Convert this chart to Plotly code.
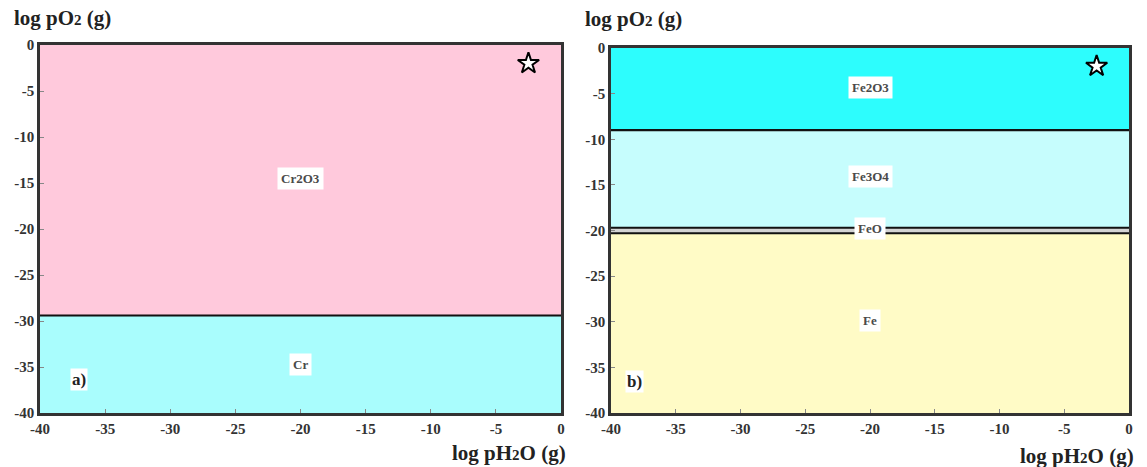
import plotly.graph_objects as go

# Phase stability data: log pO2 boundaries (top to bottom) at a given log pH2O range
x_range = [-40, 0]
x_ticks = [-40, -35, -30, -25, -20, -15, -10, -5, 0]
y_ticks = [0, -5, -10, -15, -20, -25, -30, -35, -40]

cr_phases = ["Cr2O3", "Cr"]
cr_bounds = [0, -29.4, -40]
cr_colors = ["#ffc9dc", "#a9fdfd"]
cr_label_x = [-20.0, -20.0]
cr_label_y = [-14.5, -34.7]

fe_phases = ["Fe2O3", "Fe3O4", "FeO", "Fe"]
fe_bounds = [0, -9.0, -19.7, -20.3, -40]
fe_colors = ["#2dfdfd", "#c6fdfd", "#d4d4d4", "#fffbc6"]
fe_label_x = [-20.0, -20.0, -20.0, -20.0]
fe_label_y = [-4.3, -14.1, -19.8, -29.9]

star_x = [-2.5]
star_y = [-2.0]

W, H = 1147, 467
serif = "Liberation Serif, Times New Roman, serif"

fig = go.Figure()


def add_panel(fig, xa, ya, phases, bounds, colors, lx, ly):
    # filled phase regions
    for i, name in enumerate(phases):
        top, bot = bounds[i], bounds[i + 1]
        fig.add_trace(go.Scatter(
            x=[x_range[0], x_range[1], x_range[1], x_range[0], x_range[0]],
            y=[top, top, bot, bot, top],
            fill="toself", fillcolor=colors[i], mode="lines",
            line=dict(width=0), hoverinfo="skip", showlegend=False,
            xaxis=xa, yaxis=ya))
    # phase boundary lines
    for b in bounds[1:-1]:
        fig.add_trace(go.Scatter(
            x=x_range, y=[b, b], mode="lines",
            line=dict(color="#111111", width=2.2), hoverinfo="skip",
            showlegend=False, xaxis=xa, yaxis=ya))
    # star marker for the operating point
    fig.add_trace(go.Scatter(
        x=star_x, y=star_y, mode="markers",
        marker=dict(symbol="star", size=16, color="white",
                    line=dict(color="black", width=2)),
        showlegend=False, xaxis=xa, yaxis=ya))
    # phase labels
    for name, x, y in zip(phases, lx, ly):
        fig.add_annotation(
            x=x, y=y, xref=xa, yref=ya, text=name, showarrow=False,
            font=dict(family=serif, size=13, color="#4a4a4a", weight="bold"),
            bgcolor="white", borderpad=3)


add_panel(fig, "x", "y", cr_phases, cr_bounds, cr_colors, cr_label_x, cr_label_y)
add_panel(fig, "x2", "y2", fe_phases, fe_bounds, fe_colors, fe_label_x, fe_label_y)

axis_common = dict(
    range=x_range, tickvals=x_ticks, ticktext=[str(v) for v in x_ticks],
    ticks="inside", ticklen=4, automargin=False,
    tickcolor="#888888", showgrid=False, zeroline=False,
    showline=True, linecolor="#333333", linewidth=2.5, mirror=True,
    tickfont=dict(family=serif, size=15, color="#333333", weight="bold"),
)
yaxis_common = dict(axis_common, range=[-40, 0], tickvals=y_ticks,
                    ticktext=[str(v) for v in y_ticks])

fig.update_layout(
    width=W, height=H,
    margin=dict(l=0, r=0, t=0, b=0),
    paper_bgcolor="white", plot_bgcolor="white",
    xaxis=dict(axis_common, domain=[40 / W, 561 / W], anchor="y"),
    yaxis=dict(yaxis_common, domain=[1 - 413 / H, 1 - 45 / H], anchor="x"),
    xaxis2=dict(axis_common, domain=[611 / W, 1129 / W], anchor="y2"),
    yaxis2=dict(yaxis_common, domain=[1 - 413 / H, 1 - 48 / H], anchor="x2"),
)

title_font = dict(family=serif, size=21, color="#222222", weight="bold")
ytitle = 'log pO<span style="font-size:15px">2</span> (g)'
xtitle = 'log pH<span style="font-size:15px">2</span>O (g)'

for (x, y, text, xanchor) in [
    (12, 18, ytitle, "left"),
    (583, 19, ytitle, "left"),
    (568, 453, xtitle, "right"),
    (1136, 456, xtitle, "right"),
]:
    fig.add_annotation(
        x=x / W, y=1 - y / H, xref="paper", yref="paper", text=text,
        showarrow=False, xanchor=xanchor, yanchor="middle", font=title_font)

for (x, y, text) in [(70, 391, "a)"), (634, 393, "b)")]:
    fig.add_annotation(
        x=x / W, y=1 - y / H, xref="paper", yref="paper", text=text,
        showarrow=False, font=dict(family=serif, size=17, color="#222222",
                                   weight="bold"),
        bgcolor="white", borderpad=1)

fig.write_html("out.html")
